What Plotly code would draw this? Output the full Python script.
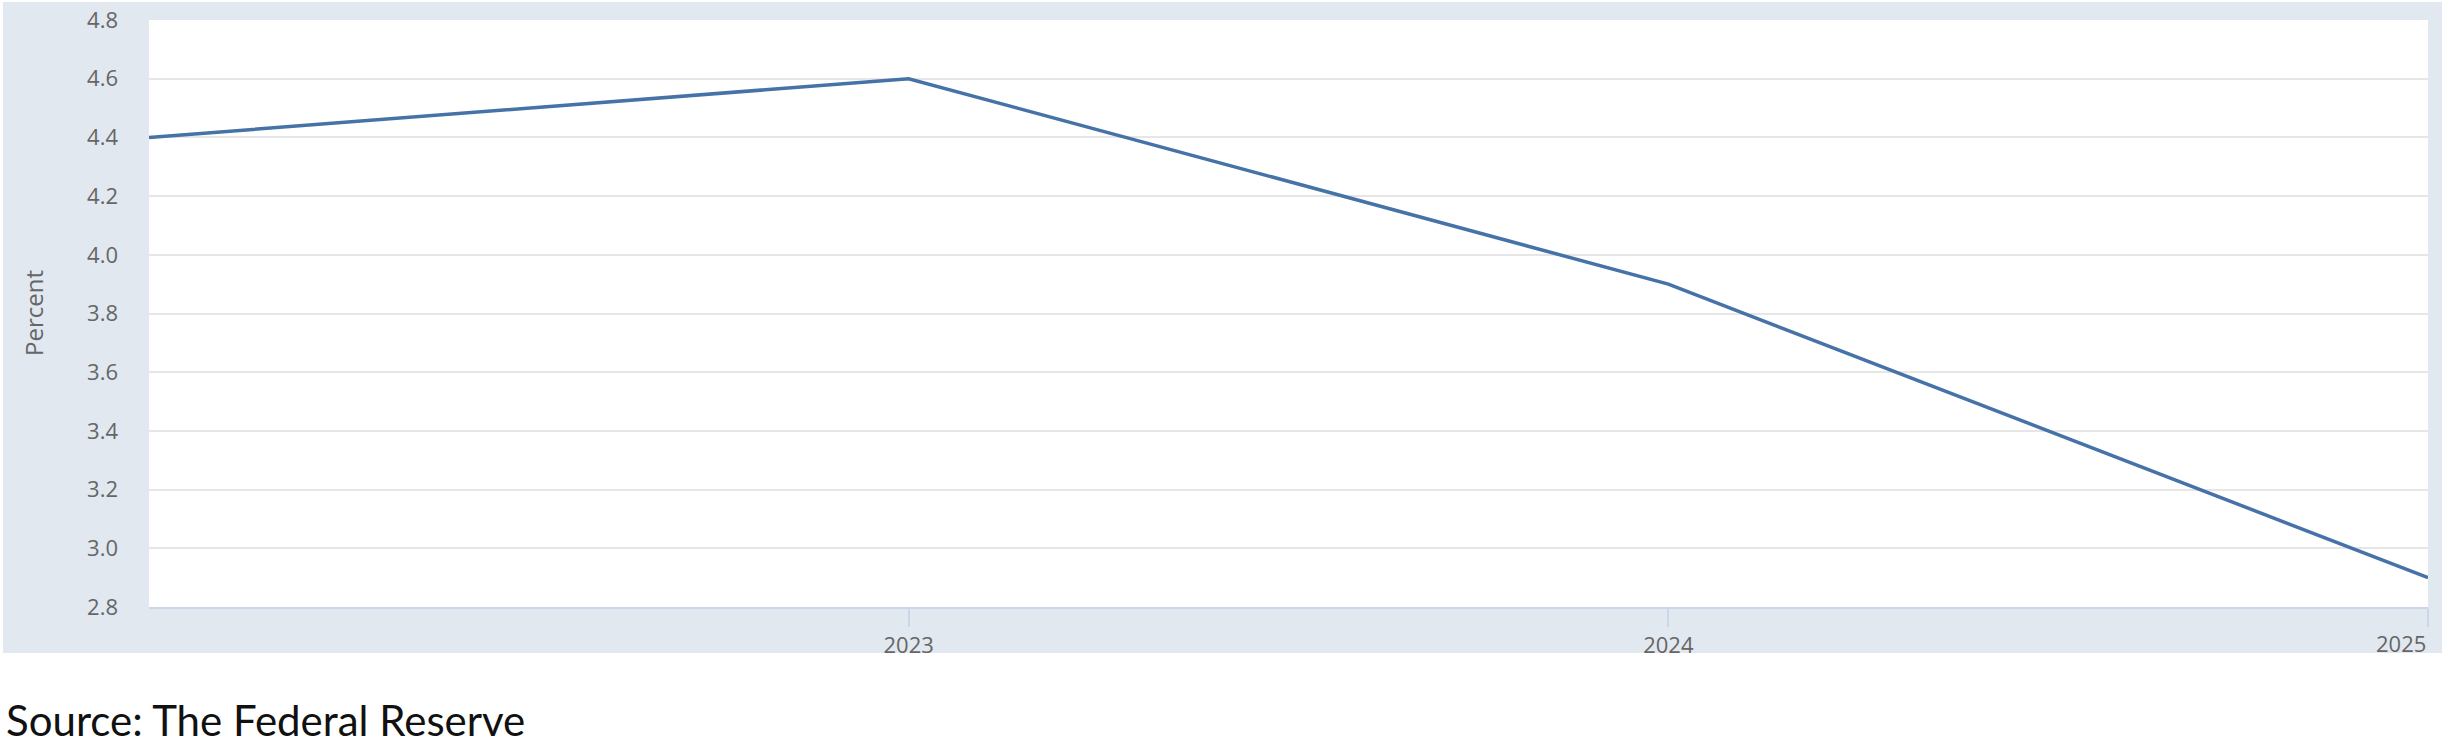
import plotly.graph_objects as go

years = [2022, 2023, 2024, 2025]
rate = [4.4, 4.6, 3.9, 2.9]
x_ticks = [2023, 2024, 2025]
x_ticktext = ["2023", "2024", ""]
y_ticks = [2.8, 3.0, 3.2, 3.4, 3.6, 3.8, 4.0, 4.2, 4.4, 4.6, 4.8]

W, H = 2445, 744
L, R, T, B = 149, 2428, 20, 607

def px(xp):
    return (xp - L) / (R - L)

def py(yp):
    return (B - yp) / (B - T)

fig = go.Figure()
fig.add_trace(go.Scatter(x=years, y=rate, mode="lines",
                         line=dict(color="#4572a7", width=3.5),
                         hoverinfo="x+y", showlegend=False))

fig.update_layout(
    width=W, height=H,
    margin=dict(l=L, r=W - R, t=T, b=H - B, pad=0, autoexpand=False),
    paper_bgcolor="white",
    plot_bgcolor="rgba(0,0,0,0)",
    font=dict(family="Open Sans", color="#666666", size=22),
    shapes=[
        dict(type="rect", xref="paper", yref="paper",
             x0=px(3), x1=px(2442), y0=py(653), y1=py(2),
             fillcolor="#e1e8f0", line=dict(width=0), layer="below"),
        dict(type="rect", xref="paper", yref="paper",
             x0=0, x1=1, y0=0, y1=1,
             fillcolor="white", line=dict(width=0), layer="below"),
    ],
    annotations=[
        dict(text="2025", x=2025, xref="x", y=py(626), yref="paper",
             xanchor="right", yanchor="top", showarrow=False,
             font=dict(family="Open Sans", size=22, color="#666666")),
        dict(text="Percent", x=px(33), xref="paper", y=py(313), yref="paper",
             xanchor="center", yanchor="middle", textangle=-90, showarrow=False,
             font=dict(family="Open Sans", size=24, color="#666666")),
        dict(text="Source: The Federal Reserve", x=px(4), xref="paper",
             y=py(720), yref="paper", xanchor="left", yanchor="middle",
             showarrow=False,
             font=dict(family="Lato", size=42, color="#111111")),
    ],
)

fig.update_xaxes(
    range=[2022, 2025], automargin=False,
    tickvals=x_ticks, ticktext=x_ticktext,
    showgrid=False, zeroline=False,
    showline=True, linecolor="#ccd6eb", linewidth=2,
    ticks="outside", ticklen=18, tickcolor="#ccd6eb", tickwidth=2,
    tickfont=dict(size=22, color="#666666"),
)
fig.update_yaxes(
    range=[2.8, 4.8], automargin=False,
    tickvals=y_ticks, tickformat=".1f",
    showgrid=True, gridcolor="#e6e6e6", gridwidth=2,
    zeroline=False, showline=False,
    ticklabelstandoff=30,
    tickfont=dict(size=22, color="#666666"),
)

fig.write_html("out.html",
               config={"displayModeBar": False},
               post_script="document.body.style.margin='0';document.body.style.overflow='hidden';")
